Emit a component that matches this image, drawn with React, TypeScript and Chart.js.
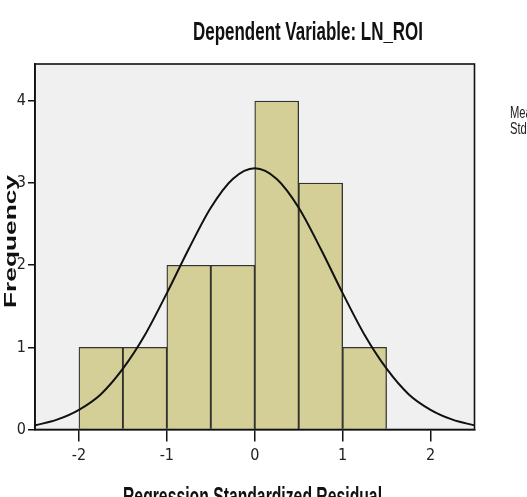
import React, { useEffect, useRef } from "react";
import { Chart, registerables } from "chart.js";

Chart.register(...registerables);

// Histogram bins (bin centres, width 0.5) and frequencies
const binCenters = [-1.75, -1.25, -0.75, -0.25, 0.25, 0.75, 1.25];
const frequencies = [1, 1, 2, 2, 4, 3, 1];

// Normal curve
const curveX = [-2.5, -2.25, -2.0, -1.75, -1.5, -1.25, -1.0, -0.75, -0.5, -0.25, 0, 0.25, 0.5, 0.75, 1.0, 1.25, 1.5, 1.75, 2.0, 2.25, 2.5];
const curveY = [0.05, 0.12, 0.24, 0.43, 0.74, 1.15, 1.66, 2.2, 2.7, 3.05, 3.18, 3.05, 2.7, 2.2, 1.66, 1.15, 0.74, 0.43, 0.24, 0.12, 0.05];

const xTicks = [-2, -1, 0, 1, 2];
const yTicks = [0, 1, 2, 3, 4];

const titleText = "Dependent Variable: LN_ROI";
const xTitle = "Regression Standardized Residual";
const yTitle = "Frequency";
const legendLines = ["Mean = -1.39E-16", "Std. Dev. = 0.877"];

const tickFont = "'Liberation Sans Narrow', 'DejaVu Sans Condensed', 'Liberation Sans', sans-serif";

function drawScaled(
  ctx: CanvasRenderingContext2D,
  text: string,
  x: number,
  y: number,
  width: number,
  font: string,
  align: "center" | "left"
) {
  ctx.save();
  ctx.font = font;
  const w = ctx.measureText(text).width;
  const s = width / w;
  ctx.translate(x, y);
  ctx.scale(s, 1);
  ctx.textAlign = align;
  ctx.textBaseline = "alphabetic";
  ctx.fillText(text, 0, 0);
  ctx.restore();
}

const decorPlugin = {
  id: "decor",
  beforeDraw(chart: any) {
    const { ctx, chartArea } = chart;
    ctx.save();
    ctx.fillStyle = "#f0f0f0";
    ctx.fillRect(chartArea.left, chartArea.top, chartArea.right - chartArea.left, chartArea.bottom - chartArea.top);
    ctx.restore();
  },
  afterDraw(chart: any) {
    const { ctx, chartArea } = chart;
    ctx.save();
    ctx.strokeStyle = "#111";
    ctx.lineWidth = 1.6;
    ctx.strokeRect(chartArea.left, chartArea.top, chartArea.right - chartArea.left, chartArea.bottom - chartArea.top);
    ctx.fillStyle = "#111";
    drawScaled(ctx, titleText, 308, 40, 230, "bold 26px 'Liberation Sans', Arial, sans-serif", "center");
    drawScaled(ctx, xTitle, 252.5, 505, 259, "bold 25px 'Liberation Sans', Arial, sans-serif", "center");
    // rotated y title
    ctx.save();
    ctx.translate(16, 241.5);
    ctx.rotate(-Math.PI / 2);
    drawScaled(ctx, yTitle, 0, 0, 133, "bold 17px 'Liberation Sans', Arial, sans-serif", "center");
    ctx.restore();
    // legend text (clipped by canvas edge)
    ctx.fillStyle = "#222";
    legendLines.forEach((t, i) => {
      ctx.save();
      ctx.font = "16px 'Liberation Sans', Arial, sans-serif";
      ctx.translate(510, 118 + i * 16);
      ctx.scale(0.7, 1);
      ctx.fillText(t, 0, 0);
      ctx.restore();
    });
    ctx.restore();
  },
};

export default function App() {
  const ref = useRef<HTMLCanvasElement | null>(null);
  useEffect(() => {
    if (!ref.current) return;
    const chart = new Chart(ref.current, {
      type: "bar",
      data: {
        datasets: [
          {
            type: "line",
            data: curveX.map((x, i) => ({ x, y: curveY[i] })),
            borderColor: "#111",
            borderWidth: 2,
            pointRadius: 0,
            cubicInterpolationMode: "monotone",
            fill: false,
            order: 0,
          } as any,
          {
            type: "bar",
            data: binCenters.map((x, i) => ({ x, y: frequencies[i] })),
            backgroundColor: "#d3cf97",
            borderColor: "#33332f",
            borderWidth: 1.3,
            barPercentage: 1,
            categoryPercentage: 1,
            order: 1,
          } as any,
        ],
      },
      options: {
        responsive: false,
        animation: false,
        layout: { padding: { top: 64, right: 52.5, left: 0, bottom: 0 } },
        plugins: { legend: { display: false }, tooltip: { enabled: false }, title: { display: false } },
        scales: {
          x: {
            type: "linear",
            min: -2.5,
            max: 2.5,
            offset: false,
            afterBuildTicks: (s: any) => {
              s.ticks = xTicks.map((v) => ({ value: v }));
            },
            afterFit: (s: any) => {
              s.height = 67.5;
            },
            grid: { offset: false, drawOnChartArea: false, drawTicks: true, tickLength: 12, color: "#111", lineWidth: 1.5 },
            border: { display: true, color: "#111", width: 1.6 },
            ticks: { font: { family: tickFont, size: 16 }, color: "#222", padding: 5 },
          },
          y: {
            type: "linear",
            min: 0,
            max: 4.45,
            afterBuildTicks: (s: any) => {
              s.ticks = yTicks.map((v) => ({ value: v }));
            },
            afterFit: (s: any) => {
              s.width = 35;
            },
            grid: { drawOnChartArea: false, drawTicks: true, tickLength: 7, color: "#111", lineWidth: 1.5 },
            border: { display: true, color: "#111", width: 1.6 },
            ticks: { font: { family: tickFont, size: 16 }, color: "#222", padding: 2 },
          },
        },
      },
      plugins: [decorPlugin],
    });
    return () => chart.destroy();
  }, []);
  return (
    <div style={{ position: "absolute", left: 0, top: 0, width: 527, height: 497, background: "#fff" }}>
      <canvas ref={ref} width={527} height={497} style={{ display: "block" }} />
    </div>
  );
}
